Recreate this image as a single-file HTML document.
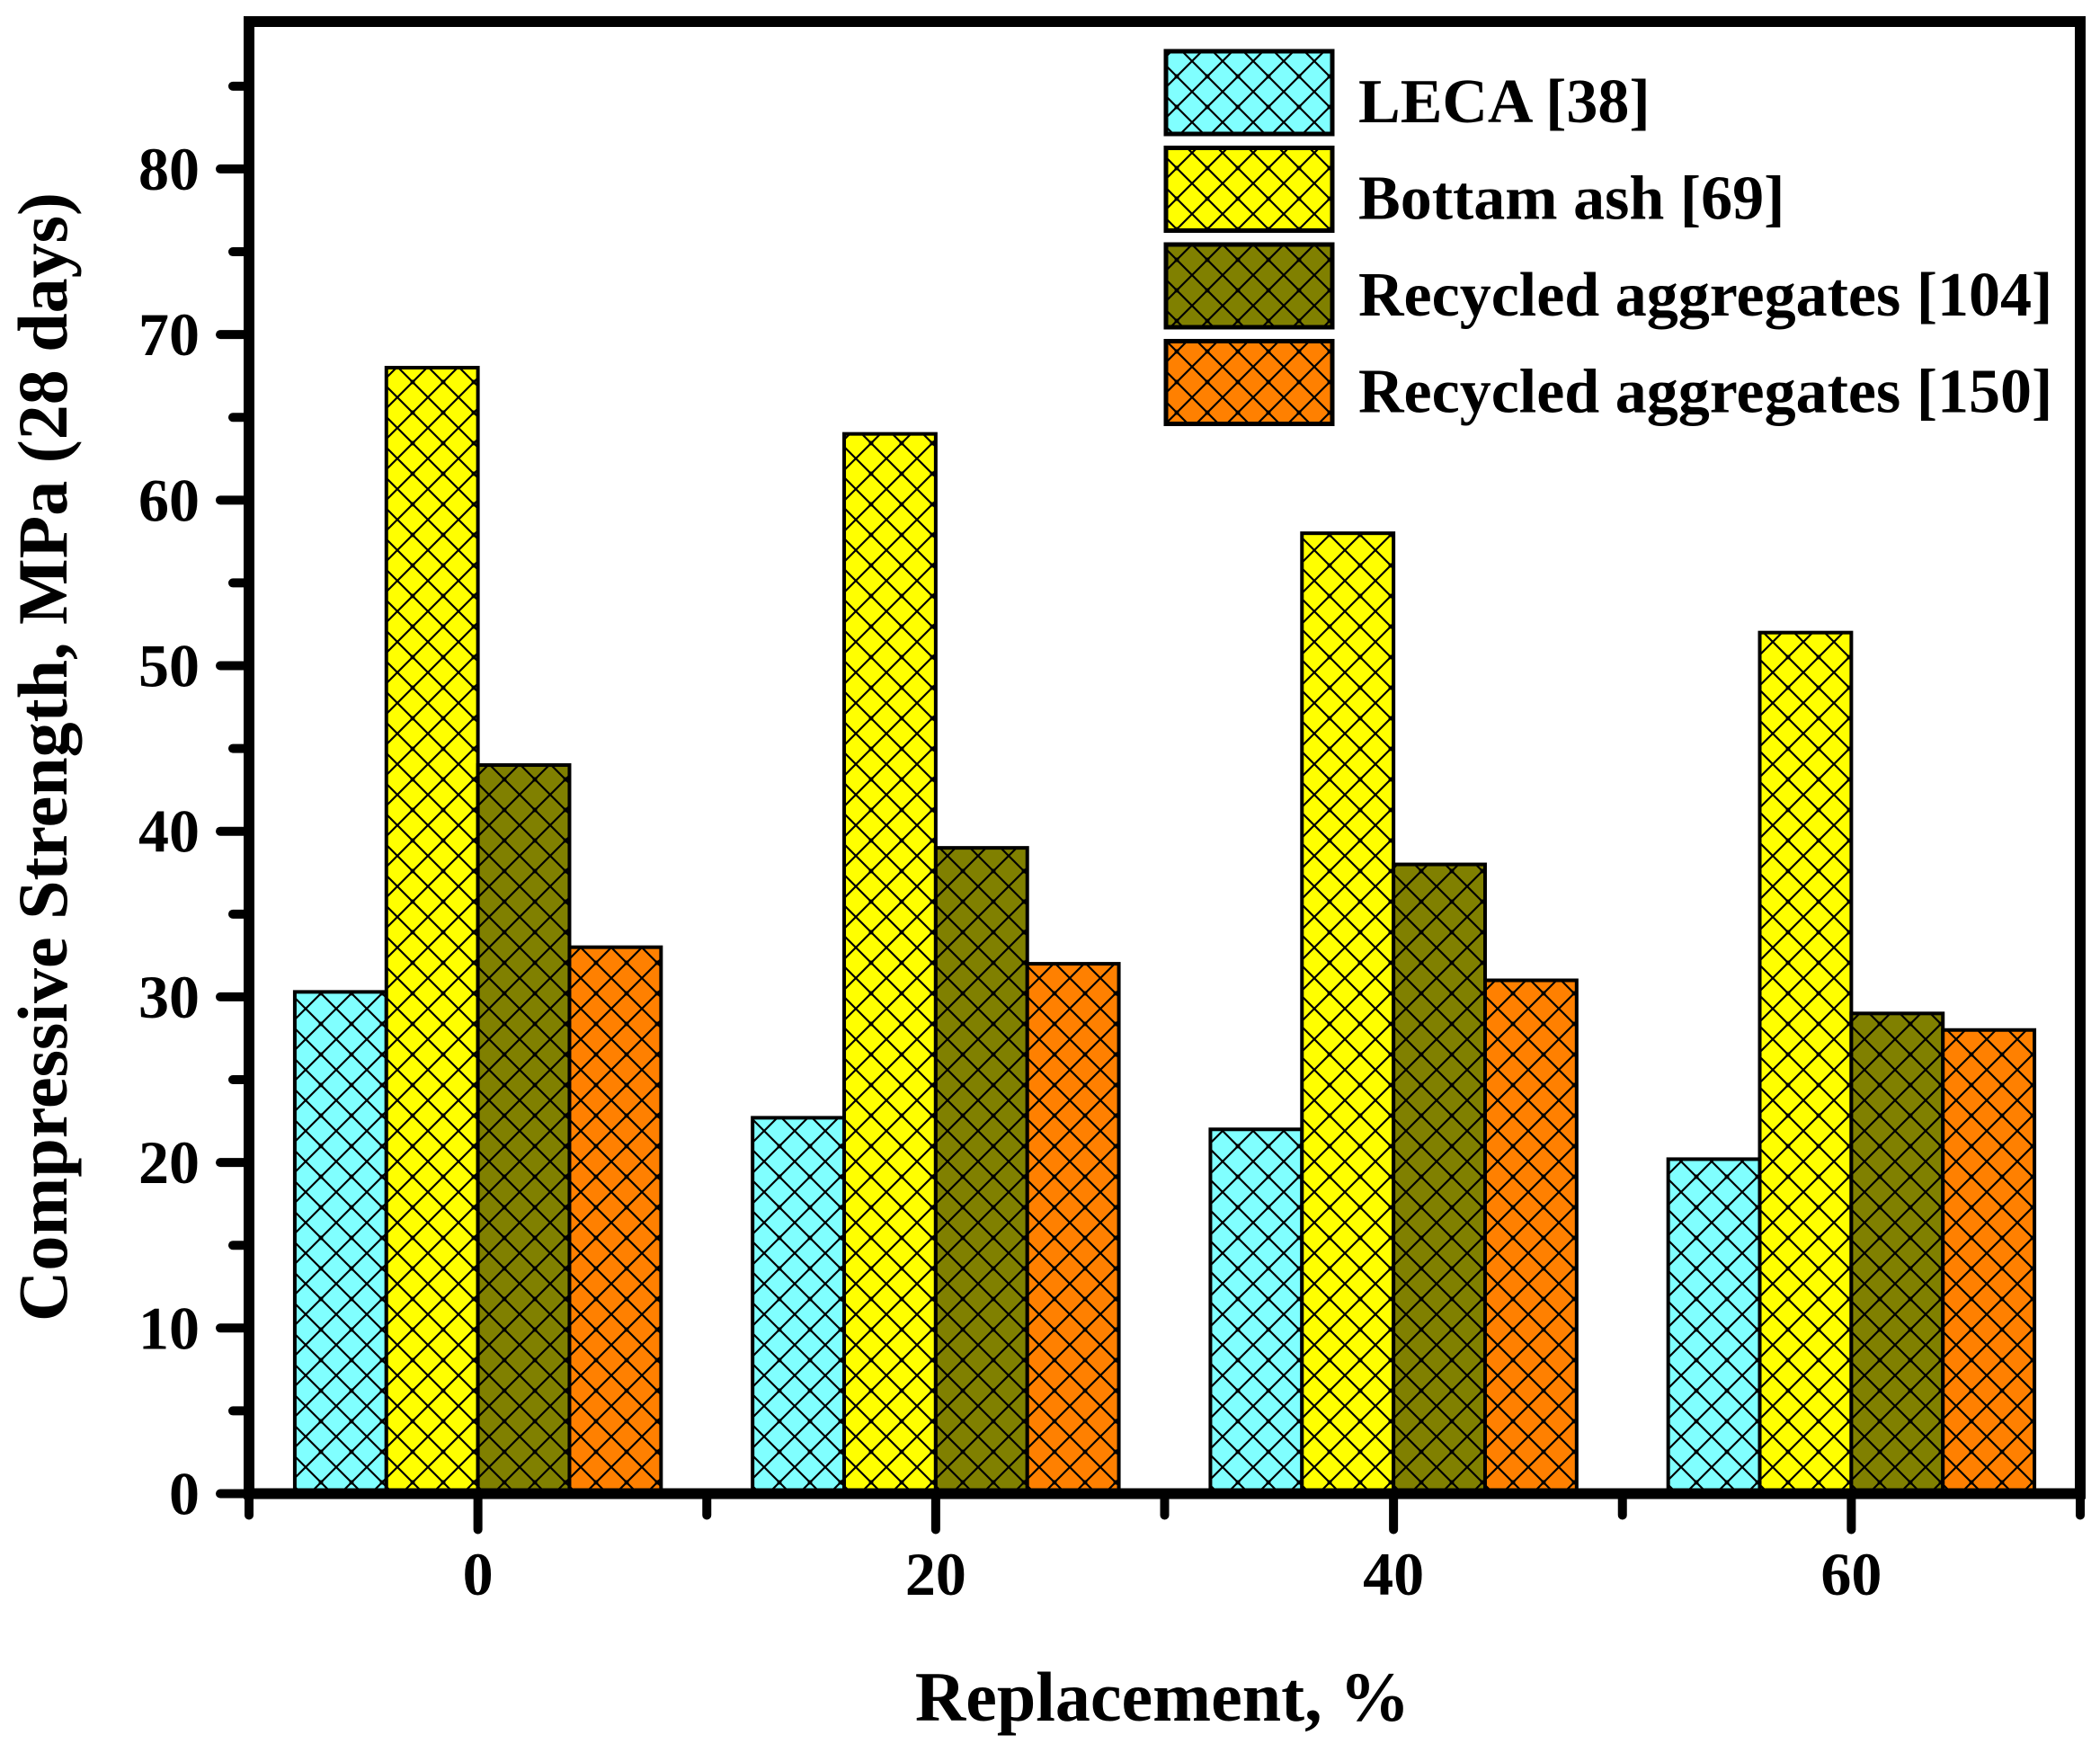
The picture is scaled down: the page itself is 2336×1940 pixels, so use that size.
<!DOCTYPE html>
<html><head><meta charset="utf-8"><style>
html,body{margin:0;padding:0;background:#fff;}
svg{display:block;}
text{font-family:"Liberation Serif",serif;font-weight:bold;fill:#000;}
</style></head><body>
<svg id="chart" width="2336" height="1940" viewBox="0 0 2336 1940" xmlns="http://www.w3.org/2000/svg">
<defs>
<pattern id="hatch" patternUnits="userSpaceOnUse" width="34" height="34">
<path d="M0,0 L34,34 M34,0 L0,34" stroke="#000" stroke-width="2.2" fill="none"/>
<circle cx="17" cy="17" r="2.5" fill="#000"/>
</pattern>
</defs>
<g id="bars"></g>
<g id="axes"></g>
<g id="legend"></g>
<text x="1293" y="1914" font-size="78" text-anchor="middle">Replacement, %</text>
<text x="0" y="0" font-size="78" text-anchor="middle" transform="translate(74,842) rotate(-90)">Compressive Strength, MPa (28 days)</text>
</svg>
<script>
const categories = [0, 20, 40, 60];
const seriesNames = ["LECA [38]", "Bottam ash [69]", "Recycled aggregates [104]", "Recycled aggregates [150]"];
const leca = [30.3, 22.7, 22, 20.2];
const bottomAsh = [68, 64, 58, 52];
const recycled104 = [44, 39, 38, 29];
const recycled150 = [33, 32, 31, 28];
const yTicks = [0, 10, 20, 30, 40, 50, 60, 70, 80];
const xTicks = [0, 20, 40, 60];

const series = [leca, bottomAsh, recycled104, recycled150];
const colors = ["#80FFFF", "#FFFF00", "#808000", "#FF8000"];
const NS = "http://www.w3.org/2000/svg";
const L = 277, R = 2314, T = 24, B = 1661.5;
const xMin = -10, xMax = 70, yMin = 0, yMax = 88.9;
const xs = v => L + (v - xMin) / (xMax - xMin) * (R - L);
const ys = v => B - (v - yMin) / (yMax - yMin) * (B - T);
function mk(tag, attrs, parent) {
  const e = document.createElementNS(NS, tag);
  for (const k in attrs) e.setAttribute(k, attrs[k]);
  parent.appendChild(e);
  return e;
}
const barsG = document.getElementById('bars');
const step = xs(20) - xs(0);
const bw = step * 0.2;
series.forEach((s, si) => {
  s.forEach((v, ci) => {
    const x0 = xs(categories[ci]) - 2 * bw + si * bw;
    const y0 = ys(v);
    const h = ys(0) - y0;
    const r1 = mk('rect', {x: x0, y: y0, width: bw, height: h, fill: colors[si], stroke: 'none'}, barsG);
    
    
    const r2 = mk('rect', {x: x0, y: y0, width: bw, height: h, fill: 'url(#hatch)', stroke: '#000', 'stroke-width': 4}, barsG);
    
    
  });
});
const ax = document.getElementById('axes');
const frame = mk('rect', {x: L, y: T, width: R - L, height: B - T, fill: 'none', stroke: '#000', 'stroke-width': 12}, ax);


for (let v = 0; v <= 85; v += 5) {
  const major = v % 10 === 0;
  const t = mk('line', {x1: L, x2: L - (major ? 32 : 18), y1: ys(v), y2: ys(v), stroke: '#000', 'stroke-width': 10, 'stroke-linecap': 'round'}, ax);
  
  
}
yTicks.forEach(v => {
  const t = mk('text', {x: 222, y: ys(v) + 23, 'font-size': 68, 'text-anchor': 'end'}, ax);
  t.textContent = v;
  
  
});
for (let v = -10; v <= 70; v += 10) {
  const major = v % 20 === 0;
  const t = mk('line', {x1: xs(v), x2: xs(v), y1: B, y2: B + (major ? 40 : 24), stroke: '#000', 'stroke-width': 10, 'stroke-linecap': 'round'}, ax);
  
  
}
xTicks.forEach(v => {
  const t = mk('text', {x: xs(v), y: 1774, 'font-size': 68, 'text-anchor': 'middle'}, ax);
  t.textContent = v;
  
  
});
const lg = document.getElementById('legend');
seriesNames.forEach((n, i) => {
  const y0 = 57 + i * 107.5;
  const r1 = mk('rect', {x: 1297, y: y0, width: 185, height: 92, fill: colors[i]}, lg);
  
  
  const r2 = mk('rect', {x: 1297, y: y0, width: 185, height: 92, fill: 'url(#hatch)', stroke: '#000', 'stroke-width': 5}, lg);
  
  
  const t = mk('text', {x: 1511, y: y0 + 79, 'font-size': 70}, lg);
  t.textContent = n;
  
  
});
</script>
</body></html>
